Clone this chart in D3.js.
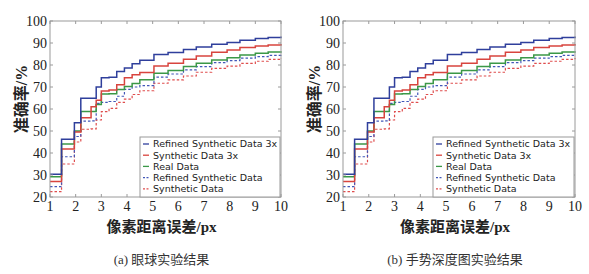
<!doctype html>
<html lang="zh">
<head>
<meta charset="UTF-8">
<title>accuracy curves</title>
<style>
  body { margin: 0; background: #fff; }
  svg text { fill: #222; }
</style>
</head>
<body>
<div id="chart"></div>
<script src="https://d3js.org/d3.v7.min.js"></script>
<script>
// pixel error thresholds where the step curves change
const xSteps = [1, 1.45, 1.95, 2.2, 2.6, 2.8, 3.0, 3.3, 3.6, 3.9, 4.2, 4.5, 5.05, 5.6, 6.2, 6.7, 7.3, 7.9, 8.4, 9.0, 9.5, 10]

const refined3x = [30.3, 46.2, 53.8, 64.9, 64.9, 70.0, 74.2, 74.4, 77.0, 78.6, 80.6, 82.2, 84.8, 85.7, 87.0, 88.2, 89.4, 90.2, 91.2, 92.0, 92.5, 92.9]
const synthetic3x = [27.0, 41.8, 49.5, 56.0, 61.0, 64.0, 68.2, 68.6, 71.0, 74.2, 75.6, 76.6, 79.6, 80.8, 82.6, 84.1, 85.8, 86.8, 87.9, 88.6, 89.1, 89.5]
const realData = [29.2, 44.1, 50.0, 58.9, 58.9, 62.0, 66.8, 66.9, 68.9, 70.2, 71.6, 73.3, 76.3, 77.5, 79.3, 80.8, 82.3, 83.3, 84.6, 85.3, 85.9, 86.3]
const refined = [24.7, 38.3, 47.5, 54.5, 54.6, 62.6, 63.0, 63.4, 65.8, 68.9, 70.0, 70.6, 74.5, 75.9, 77.8, 79.3, 81.1, 82.0, 83.1, 83.8, 84.4, 84.9]
const synthetic = [22.4, 35.0, 45.0, 50.8, 51.0, 55.0, 58.8, 60.3, 63.0, 64.5, 66.6, 68.3, 71.7, 73.2, 75.0, 76.7, 78.5, 79.5, 80.7, 81.7, 82.6, 83.2]

const seriesNames = ['Refined Synthetic Data 3x', 'Synthetic Data 3x', 'Real Data', 'Refined Synthetic Data', 'Synthetic Data']
const seriesValues = [refined3x, synthetic3x, realData, refined, synthetic]
const seriesColors = ['#2f3f9c', '#d8443e', '#3b9847', '#4257b8', '#df4d4d']
const seriesDashed = [false, false, false, true, true]

const xTicks = [1, 2, 3, 4, 5, 6, 7, 8, 9, 10]
const yTicks = [20, 30, 40, 50, 60, 70, 80, 90, 100]
const captions = ['(a) 眼球实验结果', '(b) 手势深度图实验结果']

const width = 589
const height = 274

const svg = d3.select('#chart')
  .append('svg')
  .attr('width', width)
  .attr('height', height)

const serif = '"Liberation Serif", "Noto Sans CJK SC", serif'

function drawPanel(left, right, caption) {
  const top = 21
  const bottom = 197
  const x = d3.scaleLinear().domain([1, 10]).range([left, right])
  const y = d3.scaleLinear().domain([20, 100]).range([bottom, top])
  const g = svg.append('g')

  // data lines
  const line = d3.line()
    .x((d, i) => x(xSteps[i]))
    .y(d => y(d))
    .curve(d3.curveStepAfter)

  // draw dashed first so the solid lines sit above them
  const order = [4, 3, 2, 1, 0]
  order.forEach(k => {
    g.append('path')
      .datum(seriesValues[k])
      .attr('d', line)
      .attr('fill', 'none')
      .attr('stroke', seriesColors[k])
      .attr('stroke-width', seriesDashed[k] ? 1.2 : 1.5)
      .attr('stroke-dasharray', seriesDashed[k] ? '2.5,2' : null)
  })

  // frame
  g.append('rect')
    .attr('x', left).attr('y', top)
    .attr('width', right - left).attr('height', bottom - top)
    .attr('fill', 'none')
    .attr('stroke', '#9a9a9a')
    .attr('stroke-width', 1)

  // inner ticks on all sides
  const tickLen = 3
  xTicks.forEach(t => {
    g.append('line').attr('x1', x(t)).attr('x2', x(t)).attr('y1', bottom).attr('y2', bottom - tickLen).attr('stroke', '#9a9a9a')
    g.append('line').attr('x1', x(t)).attr('x2', x(t)).attr('y1', top).attr('y2', top + tickLen).attr('stroke', '#9a9a9a')
  })
  yTicks.forEach(t => {
    g.append('line').attr('x1', left).attr('x2', left + tickLen).attr('y1', y(t)).attr('y2', y(t)).attr('stroke', '#9a9a9a')
    g.append('line').attr('x1', right).attr('x2', right - tickLen).attr('y1', y(t)).attr('y2', y(t)).attr('stroke', '#9a9a9a')
  })

  // tick labels
  g.selectAll('.ylab')
    .data(yTicks)
    .enter()
    .append('text')
    .attr('x', left - 3)
    .attr('y', d => y(d))
    .attr('dy', '0.35em')
    .attr('text-anchor', 'end')
    .style('font-family', serif)
    .style('font-size', '14px')
    .text(d => d)

  g.selectAll('.xlab')
    .data(xTicks)
    .enter()
    .append('text')
    .attr('x', d => x(d))
    .attr('y', bottom + 14)
    .attr('text-anchor', 'middle')
    .style('font-family', serif)
    .style('font-size', '14px')
    .text(d => d)

  // axis titles
  g.append('text')
    .attr('x', (left + right) / 2 - 4)
    .attr('y', 232)
    .attr('text-anchor', 'middle')
    .style('font-family', serif)
    .style('font-weight', 'bold')
    .style('font-size', '15px')
    .text('像素距离误差/px')

  g.append('text')
    .attr('transform', `translate(${left - 23}, 99) rotate(-90)`)
    .attr('text-anchor', 'middle')
    .style('font-family', serif)
    .style('font-weight', 'bold')
    .style('font-size', '16px')
    .text('准确率/%')

  // caption
  g.append('text')
    .attr('x', (left + right) / 2 - 4)
    .attr('y', 264)
    .attr('text-anchor', 'middle')
    .style('font-family', serif)
    .style('font-size', '13px')
    .style('fill', '#333')
    .text(caption)

  // legend
  const legLeft = left + 90
  const legTop = 137
  const rowH = 11.2
  g.append('rect')
    .attr('x', legLeft).attr('y', legTop)
    .attr('width', right - 1 - legLeft).attr('height', bottom - legTop)
    .attr('fill', '#fff')
    .attr('stroke', '#9a9a9a')
    .attr('stroke-width', 1)

  seriesNames.forEach((name, k) => {
    const cy = legTop + 7 + k * rowH
    g.append('line')
      .attr('x1', legLeft + 3).attr('x2', legLeft + 9)
      .attr('y1', cy).attr('y2', cy)
      .attr('stroke', seriesColors[k])
      .attr('stroke-width', 1.3)
      .attr('stroke-dasharray', seriesDashed[k] ? '2,1.5' : null)
    g.append('text')
      .attr('x', legLeft + 13)
      .attr('y', cy)
      .attr('dy', '0.35em')
      .style('font-family', '"DejaVu Sans", sans-serif')
      .style('font-size', '9.5px')
      .text(name)
  })
}

drawPanel(50, 281, captions[0])
drawPanel(343, 575, captions[1])
</script>
</body>
</html>
